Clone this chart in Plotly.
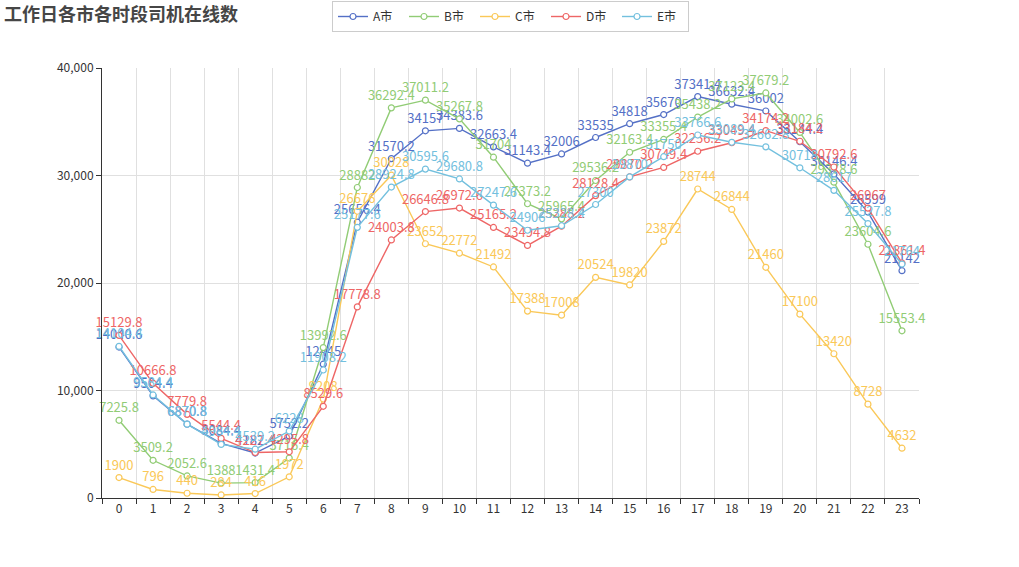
import plotly.graph_objects as go

hours = list(range(24))
hour_labels = [str(h) for h in hours]

series_names = ["A市", "B市", "C市", "D市", "E市"]
colors = ["#5470c6", "#91cc75", "#fac858", "#ee6666", "#73c0de"]

a_vals = [14040.6, 9504.4, 6870.8, 5084.4, 4182.4, 5752.2, 12445, 25656.4, 31570.2, 34157,
          34383.6, 32663.4, 31143.4, 32006, 33535, 34818, 35670, 37341.4, 36632.4, 36002,
          33144.4, 30146.4, 26599, 21142]
b_vals = [7225.8, 3509.2, 2052.6, 1388, 1431.4, 3716.4, 13992.6, 28882, 36292.4, 37011.2,
          35267.8, 31704, 27373.2, 25965.4, 29536.2, 32163.4, 33355.4, 35438.2, 37123.4, 37679.2,
          34002.6, 29378.6, 23604.6, 15553.4]
c_vals = [1900, 796, 440, 284, 416, 1972, 9208, 26676, 30028, 23652,
          22772, 21492, 17388, 17008, 20524, 19820, 23872, 28744, 26844, 21460,
          17100, 13420, 8728, 4632]
d_vals = [15129.8, 10666.8, 7779.8, 5544.4, 4227.4, 4295.8, 8529.6, 17778.8, 24003.8, 26646.8,
          26972.6, 25165.2, 23494.8, 25285.2, 28128.4, 29870.2, 30749.4, 32256.2, 33049.4, 34174.2,
          33184.2, 30792.6, 26967, 21861.4]
e_vals = [14104.4, 9584.4, 6870.8, 4984.4, 4539.2, 6228, 11908.2, 25177.6, 28924.8, 30595.6,
          29680.8, 27247.6, 24906, 25328.4, 27300, 29870.0, 31750, 33766.6, 33089.4, 32662.8,
          30718, 28617, 25527.8, 21764]

all_vals = [a_vals, b_vals, c_vals, d_vals, e_vals]

y_ticks = [0, 10000, 20000, 30000, 40000]


def fmt(v):
    s = ("%.1f" % v)
    if s.endswith(".0"):
        s = s[:-2]
    return s


fig = go.Figure()
for name, color, vals in zip(series_names, colors, all_vals):
    fig.add_trace(go.Scatter(
        x=hours, y=vals, name=name, mode="lines+markers+text",
        line=dict(color=color, width=1.4),
        marker=dict(symbol="circle", size=6, color="white", line=dict(color=color, width=1.2)),
        text=[fmt(v) for v in vals], textposition="top center",
        textfont=dict(color=color, size=13, family="Noto Sans CJK SC, Noto Sans, sans-serif"),
        cliponaxis=False,
    ))

fig.update_layout(
    width=1019, height=567,
    margin=dict(l=102, r=100, t=68, b=69, autoexpand=False),
    paper_bgcolor="white", plot_bgcolor="white",
    font=dict(family="Noto Sans CJK SC, Noto Sans, sans-serif", size=12, color="#333"),
    title=dict(text="<b>工作日各市各时段司机在线数</b>", x=4 / 1019, xanchor="left",
               xref="container", yref="container", y=1 - 15 / 567, yanchor="middle",
               pad=dict(l=0, t=0, r=0, b=0),
               font=dict(size=18, color="#464646")),
    legend=dict(orientation="h", x=0.5, xanchor="center", y=1 - 1 / 567, yref="container",
                yanchor="top", bordercolor="#ccc", borderwidth=1,
                font=dict(size=12, color="#333"), itemwidth=30,
                entrywidth=26, entrywidthmode="pixels"),
    showlegend=True,
)
fig.update_xaxes(
    range=[-0.5, 23.5], tickvals=hours, ticktext=hour_labels, showgrid=False,
    ticks="", showline=True, linecolor="#333", linewidth=1, zeroline=False,
    tickfont=dict(size=12, color="#333"), automargin=False,
    minor=dict(tick0=-0.5, dtick=1, showgrid=True, gridcolor="#e0e0e0", gridwidth=1,
               ticks="outside", ticklen=5, tickcolor="#333"),
)
fig.update_yaxes(
    range=[0, 40000], tickvals=y_ticks, tickformat=",", showgrid=True, gridcolor="#e0e0e0",
    showline=True, linecolor="#333", linewidth=1, ticks="outside", ticklen=5, tickcolor="#333",
    zeroline=False, tickfont=dict(size=12, color="#333"), automargin=False,
)

fig.write_html("out.html", config={"displayModeBar": False},
               post_script="document.body.style.margin='0';")
